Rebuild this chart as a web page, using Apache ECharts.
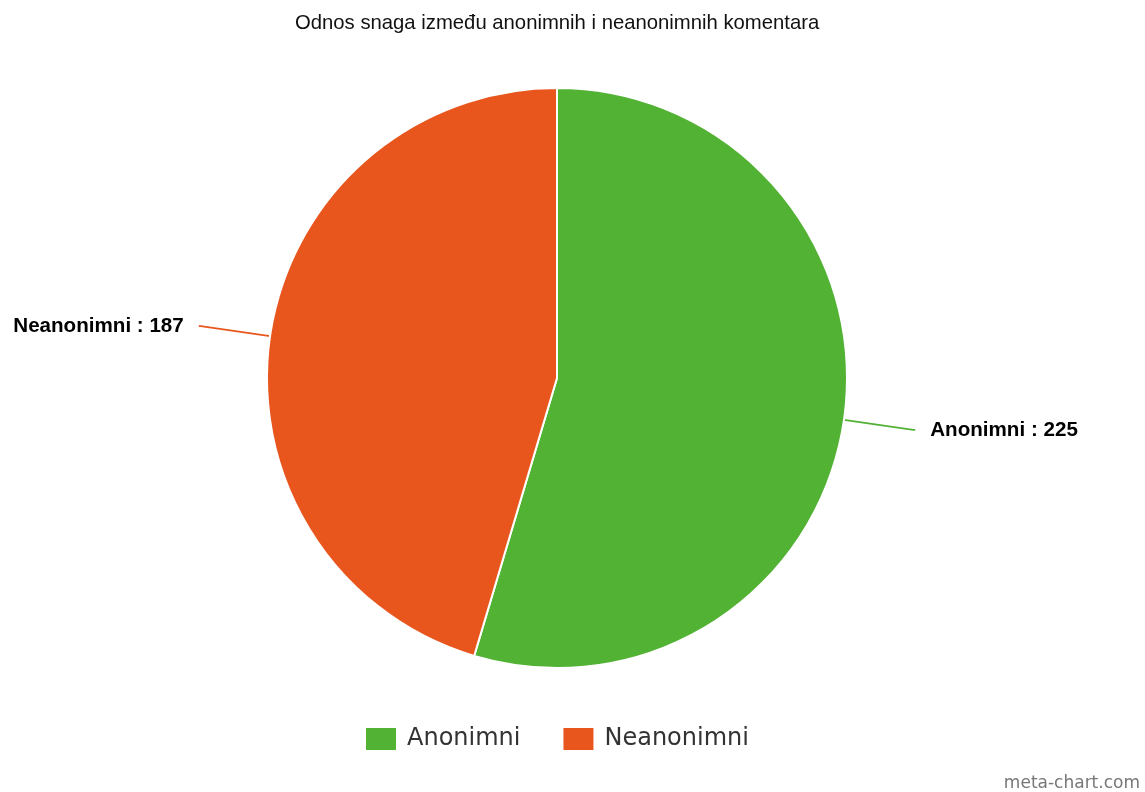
<!DOCTYPE html>
<html>
<head>
<meta charset="utf-8">
<script src="https://cdn.jsdelivr.net/npm/echarts@6/dist/echarts.min.js"></script>
<style>
  html, body { margin: 0; padding: 0; background: #fff; }
  #chart { width: 1145px; height: 792px; }
</style>
</head>
<body>
<div id="chart"></div>
<script>
// podaci
var categories = ['Anonimni', 'Neanonimni'];
var values = [225, 187];
var colors = ['#52b234', '#e8561e'];

var chart = echarts.init(document.getElementById('chart'));

chart.setOption({
  animation: false,
  color: colors,
  title: {
    text: 'Odnos snaga između anonimnih i neanonimnih komentara',
    left: 290,
    top: 8,
    textStyle: {
      fontFamily: 'Liberation Sans',
      fontSize: 20.3,
      fontWeight: 'normal',
      color: '#111'
    }
  },
  legend: {
    data: categories,
    bottom: 35,
    left: 359,
    itemWidth: 32,
    itemHeight: 24,
    itemGap: 41,
    icon: 'rect',
    textStyle: {
      fontFamily: 'DejaVu Sans',
      fontSize: 24,
      color: '#333',
      padding: [0, 0, 0, 5]
    }
  },
  graphic: [{
    type: 'text',
    right: 5,
    bottom: 0,
    style: {
      text: 'meta-chart.com',
      fontFamily: 'DejaVu Sans',
      fontSize: 17,
      fill: '#777'
    }
  }],
  series: [{
    type: 'pie',
    center: [557, 378],
    radius: 290,
    startAngle: 90,
    clockwise: true,
    itemStyle: {
      borderColor: '#fff',
      borderWidth: 2
    },
    label: {
      formatter: '{b} : {c}',
      fontFamily: 'Liberation Sans',
      fontSize: 20.6,
      fontWeight: 'bold',
      color: '#000',
      distanceToLabelLine: 15
    },
    labelLine: {
      length: 70,
      length2: 2,
      lineStyle: { width: 1.8 }
    },
    emphasis: { disabled: true },
    data: categories.map(function (name, i) {
      return { name: name, value: values[i] };
    })
  }]
});
</script>
</body>
</html>
